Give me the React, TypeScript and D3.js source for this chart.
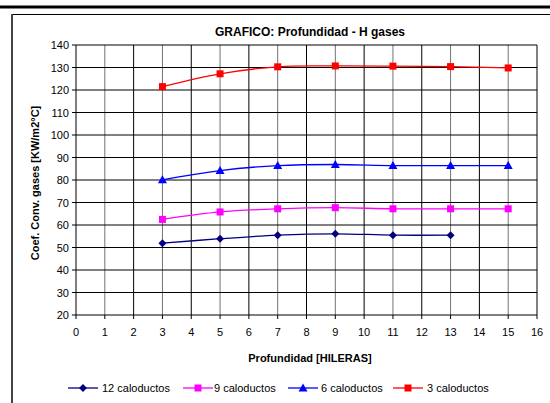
import React from "react";
import * as d3 from "d3";

const xValues = [3, 5, 7, 9, 11, 13, 15];
const series12 = [51.9, 53.9, 55.5, 56.1, 55.5, 55.5];
const series9 = [62.5, 65.8, 67.2, 67.7, 67.2, 67.2, 67.2];
const series6 = [80.1, 84.2, 86.4, 86.9, 86.4, 86.4, 86.4];
const series3 = [121.5, 127.2, 130.3, 130.7, 130.6, 130.4, 129.8];
const seriesNames = ["12 caloductos", "9 caloductos", "6 caloductos", "3 caloductos"];
const xTicks = d3.range(0, 17, 1);
const yTicks = d3.range(20, 141, 10);

const colors = ["#000080", "#FF00FF", "#0000FF", "#FF0000"];
const markerTypes = ["diamond", "square", "triangle", "square"];
const FONT = "'Liberation Sans', Arial, sans-serif";

function Marker({ type, x, y, color }: { type: string; x: number; y: number; color: string }) {
  if (type === "diamond") {
    const s = 4;
    return <path d={`M${x},${y - s}L${x + s},${y}L${x},${y + s}L${x - s},${y}Z`} fill={color} />;
  }
  if (type === "triangle") {
    return <path d={`M${x},${y - 4.5}L${x + 4.5},${y + 3.5}L${x - 4.5},${y + 3.5}Z`} fill={color} />;
  }
  return <rect x={x - 3.5} y={y - 3.5} width={7} height={7} fill={color} />;
}

export default function App() {
  const x = d3.scaleLinear().domain([0, 16]).range([76, 537]);
  const y = d3.scaleLinear().domain([20, 140]).range([315, 45]);
  const allSeries = [series12, series9, series6, series3];
  const line = d3
    .line<number>()
    .x((_, i) => x(xValues[i]))
    .y((d) => y(d))
    .curve(d3.curveCatmullRom.alpha(0.5));

  const legendItems = [
    { lx: 68, tx: 102 },
    { lx: 183, tx: 214 },
    { lx: 288, tx: 321 },
    { lx: 393, tx: 427 },
  ];

  return (
    <svg
      width={550}
      height={403}
      style={{ position: "absolute", left: 0, top: 0, background: "#fff" }}
      fontFamily={FONT}
    >
      <rect x={0} y={0} width={550} height={403} fill="#fff" />
      {/* frame */}
      <line x1={0} x2={550} y1={7} y2={7} stroke="#000" strokeWidth={3} />
      <line x1={11} x2={550} y1={14.5} y2={14.5} stroke="#000" strokeWidth={1} />
      <line x1={12} x2={12} y1={14} y2={403} stroke="#444" strokeWidth={2} />

      {/* title */}
      <text x={310} y={36} textAnchor="middle" fontSize={12} fontWeight="bold">
        GRAFICO: Profundidad - H gases
      </text>

      {/* gridlines */}
      {yTicks.map((t) => (
        <line key={"gy" + t} x1={x(0)} x2={x(16)} y1={y(t)} y2={y(t)} stroke="#000" strokeWidth={1} />
      ))}
      {xTicks.map((t) => (
        <line key={"gx" + t} x1={x(t)} x2={x(t)} y1={y(140)} y2={y(20)} stroke="#000" strokeWidth={1} opacity={t % 2 === 1 ? 0.55 : 1} />
      ))}

      {/* axis ticks */}
      {yTicks.map((t) => (
        <g key={"ty" + t}>
          <line x1={x(0) - 4} x2={x(0)} y1={y(t)} y2={y(t)} stroke="#000" />
          <text x={x(0) - 7} y={y(t) + 4} textAnchor="end" fontSize={11}>
            {t}
          </text>
        </g>
      ))}
      {xTicks.map((t) => (
        <g key={"tx" + t}>
          <line x1={x(t)} x2={x(t)} y1={y(20)} y2={y(20) + 4} stroke="#000" />
          <text x={x(t)} y={y(20) + 21} textAnchor="middle" fontSize={11}>
            {t}
          </text>
        </g>
      ))}

      {/* axis titles */}
      <text x={310} y={362} textAnchor="middle" fontSize={11} fontWeight="bold">
        Profundidad [HILERAS]
      </text>
      <text
        transform={`translate(39,183) rotate(-90)`}
        textAnchor="middle"
        fontSize={11}
        fontWeight="bold"
      >
        Coef. Conv. gases [KW/m2°C]
      </text>

      {/* series */}
      {allSeries.map((s, si) => (
        <g key={"s" + si}>
          <path d={line(s) || ""} fill="none" stroke={colors[si]} strokeWidth={1.3} />
          {s.map((v, i) => (
            <Marker key={i} type={markerTypes[si]} x={x(xValues[i])} y={y(v)} color={colors[si]} />
          ))}
        </g>
      ))}

      {/* legend */}
      {seriesNames.map((name, si) => (
        <g key={"l" + si}>
          <line x1={legendItems[si].lx} x2={legendItems[si].lx + 30} y1={388} y2={388} stroke={colors[si]} strokeWidth={1.3} />
          <Marker type={markerTypes[si]} x={legendItems[si].lx + 15} y={388} color={colors[si]} />
          <text x={legendItems[si].tx} y={392} fontSize={11}>
            {name}
          </text>
        </g>
      ))}
    </svg>
  );
}
